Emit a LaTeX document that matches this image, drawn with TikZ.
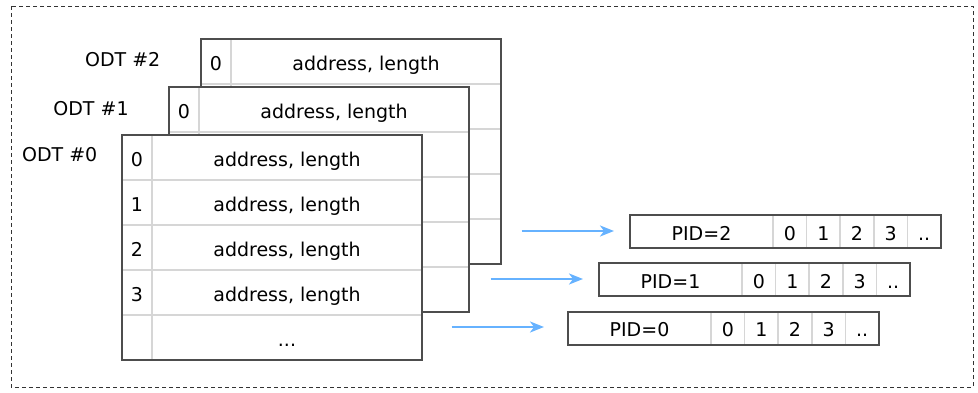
\documentclass[tikz,border=0pt]{standalone}
\usepackage{fontspec}
\setmainfont{DejaVu Sans}
\usetikzlibrary{arrows.meta}
\definecolor{edge}{HTML}{4D4D4D}
\definecolor{rule}{HTML}{D6D6D6}
\definecolor{link}{HTML}{66B2FF}
\tikzset{
  txt/.style={font=\fontsize{19}{23}\selectfont, inner sep=0pt, text=black,
    text height=17pt, text depth=0pt},
  tblbox/.style={anchor=north west, minimum width=300pt, minimum height=225pt,
    inner sep=0pt, outer sep=0pt, fill=white},
  pidbox/.style={anchor=north west, minimum width=311pt, minimum height=33pt,
    inner sep=0pt, outer sep=0pt, fill=white},
  gridline/.style={draw=rule, line width=1.5pt},
  outer/.style={draw=edge, line width=2pt},
  frame/.style={draw=black!80, line width=0.9pt, dash pattern=on 4pt off 3pt},
  arr/.style={draw=link, line width=2pt,
    -{Stealth[length=14pt, width=11pt, inset=4pt]}, shorten >=16pt},
}
% one ODT: white box, light row/column rules, dark outline
\newcommand\odtframe[1]{%
  \foreach \i in {1,...,4}
    \draw[gridline] ([yshift=-\i*45pt]#1.north west) -- ([yshift=-\i*45pt]#1.north east);
  \draw[gridline] ([xshift=30pt]#1.north west) -- ([xshift=30pt]#1.south west);
  \draw[outer] (#1.north west) rectangle (#1.south east);
}
% one PID row: label cell of 143pt, then five entry cells
\newcommand\pidframe[1]{%
  \foreach \i in {0,...,4}
    \draw[gridline] ([xshift=143pt+\i*33.6pt]#1.north west) -- ([xshift=143pt+\i*33.6pt]#1.south west);
  \draw[outer] (#1.north west) rectangle (#1.south east);
}
\begin{document}
\begin{tikzpicture}[x=1pt, y=-1pt]
  \useasboundingbox (0,0) rectangle (978,392);
  \draw[frame] (11,6) rectangle (973,387);

  % ODT #2 (back)
  \node[tblbox] (odt2) at (201,39) {};
  \odtframe{odt2}
  \node[txt] (odt2i0) at (216,61.5) {0};
  \node[txt] (odt2a0) at (366,61.5) {address, length};
  \node[txt] (odt2lbl) at (122.7,58) {ODT \#2};

  % ODT #1 (middle)
  \node[tblbox] (odt1) at (169,87) {};
  \odtframe{odt1}
  \node[txt] (odt1i0) at (184,109.5) {0};
  \node[txt] (odt1a0) at (334,109.5) {address, length};
  \node[txt] (odt1lbl) at (91,107) {ODT \#1};

  % ODT #0 (front)
  \node[tblbox] (odt0) at (122,135) {};
  \odtframe{odt0}
  \foreach \r in {0,...,3} {
    \node[txt] (odt0i\r) at (137,157.5+\r*45) {\r};
    \node[txt] (odt0a\r) at (287,157.5+\r*45) {address, length};
  }
  \node[txt] (odt0more) at (287,337.5) {...};
  \node[txt] (odt0lbl) at (59.7,153) {ODT \#0};

  % PID rows
  \foreach \p/\x/\y in {2/630/215, 1/599/263, 0/568/311.5} {
    \node[pidbox] (pid\p) at (\x,\y) {};
    \pidframe{pid\p}
    \node[txt] (pid\p lbl) at (\x+71.5,\y+16.5) {PID=\p};
    \foreach \c in {0,...,3}
      \node[txt] (pid\p c\c) at (\x+143+16.8+\c*33.6,\y+16.5) {\c};
    \node[txt] (pid\p dots) at (\x+143+16.8+4*33.6,\y+16.5) {..};
  }

  % links from the tables to the PID rows
  \coordinate (s2) at (521.7,231);
  \coordinate (s1) at (490.7,279);
  \coordinate (s0) at (451.7,327);
  \draw[arr] (s2) -- (s2 -| pid2.west);
  \draw[arr] (s1) -- (s1 -| pid1.west);
  \draw[arr, shorten >=24pt] (s0) -- (s0 -| pid0.west);
\end{tikzpicture}
\end{document}
